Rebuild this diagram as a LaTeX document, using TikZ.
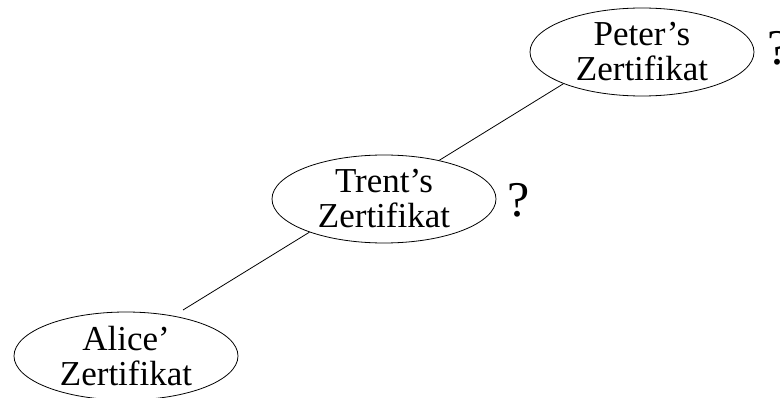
\documentclass[tikz,border=0pt]{standalone}
\usepackage{fontspec}
\setmainfont{Liberation Serif}
\usetikzlibrary{shapes.geometric}
\begin{document}
\begin{tikzpicture}[x=1pt,y=-1pt,
  cert/.style={draw, ellipse, line width=0.8pt, minimum width=224pt, minimum height=88pt, inner sep=0pt, align=center, font=\fontsize{35}{35}\selectfont},
  qmark/.style={font=\fontsize{50}{50}\selectfont, inner sep=0pt},
  link/.style={line width=0.8pt}]
\useasboundingbox (0,0) rectangle (780,398);
\node[cert] (peter) at (642,52) {Peter’s\\Zertifikat};
\node[cert] (trent) at (384,199) {Trent’s\\Zertifikat};
\node[cert] (alice) at (126,356) {Alice’\\Zertifikat};
\node[qmark] (q1) at (519,200) {?};
\node[qmark] (q2) at (779,48) {?};
\coordinate (aend) at (183,310);
\draw[link] (aend) -- (trent.204);
\draw[link] (trent.35) -- (peter.202);
\end{tikzpicture}
\end{document}
